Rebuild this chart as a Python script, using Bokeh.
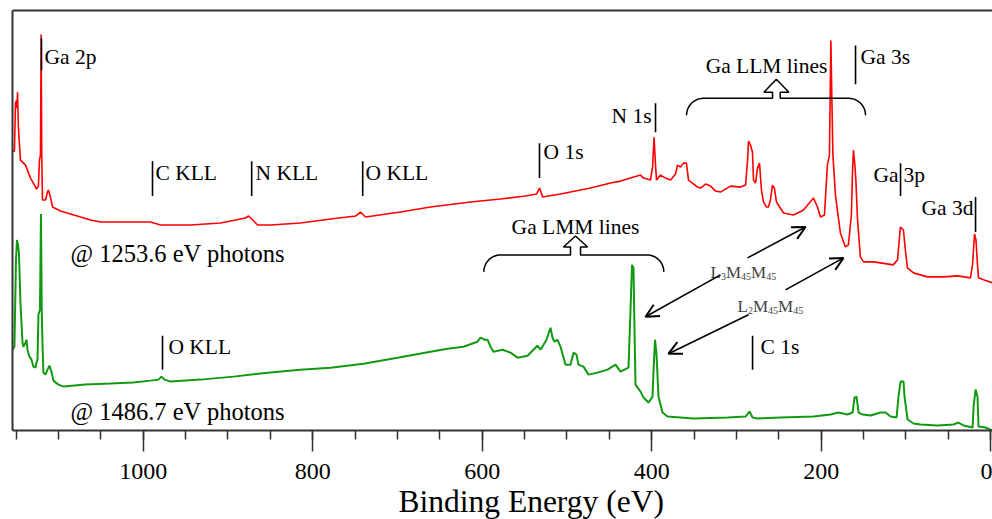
import math

from bokeh.plotting import figure
from bokeh.models import Range1d, FixedTicker, LinearAxis, Arrow, OpenHead, Title
from bokeh.core.properties import value
from bokeh.embed import file_html
from bokeh.resources import INLINE

# XPS survey of GaN, excited with 1253.6 eV photons (counts in arbitrary units)
red_energy = [1154.2, 1151.9, 1150.7, 1149.5, 1148.9, 1148.3, 1147.2, 1144.8, 1142.4, 1138.9,
              1136.5, 1133.0, 1129.5, 1125.9, 1123.6, 1122.4, 1121.2, 1120.4, 1119.7, 1118.8,
              1115.3, 1112.9, 1111.8, 1109.4, 1107.0, 1097.6, 1085.8, 1074.0, 1062.2, 1050.4,
              1015.0, 991.4, 979.6, 944.2, 908.8, 885.2, 879.3, 875.7, 870.9, 865.0,
              849.7, 814.4, 779.0, 749.4, 743.6, 737.7, 696.4, 661.0, 613.8, 578.4,
              548.9, 535.9, 532.3, 528.8, 507.6, 472.2, 448.6, 436.8, 425.0, 413.2,
              409.7, 401.4, 399.0, 397.2, 395.5, 394.3, 389.6, 383.7, 377.8, 371.9,
              369.6, 366.0, 362.5, 359.0, 356.6, 351.9, 346.0, 342.4, 336.5, 330.6,
              324.7, 318.8, 307.0, 295.2, 289.3, 286.9, 285.8, 283.4, 281.1, 279.9,
              277.5, 275.2, 272.8, 270.5, 268.1, 264.6, 262.2, 259.9, 257.5, 255.2,
              252.8, 244.5, 232.7, 220.9, 209.1, 204.4, 200.9, 196.2, 192.7, 190.3,
              188.6, 187.4, 186.2, 183.2, 180.9, 177.4, 171.5, 167.9, 164.4, 163.2,
              162.0, 160.3, 159.1, 157.3, 153.8, 150.1, 138.3, 130.1, 115.1, 110.0,
              108.9, 106.6, 103.0, 100.7, 98.3, 91.1, 74.6, 55.7, 39.2, 23.9,
              21.5, 19.1, 17.4, 15.6, 14.4, 8.5, -2.1]
red_counts = [280, 280, 328, 331, 323, 339, 303, 271, 269, 266,
              261, 253, 248, 242, 245, 271, 276, 397, 276, 231,
              231, 239, 241, 234, 224, 220, 217, 214, 211, 209,
              209, 209, 206, 206, 208, 212, 213, 215, 211, 206,
              206, 208, 212, 215, 219, 214, 219, 224, 229, 232,
              235, 237, 243, 234, 237, 243, 248, 250, 253, 256,
              253, 251, 264, 294, 266, 251, 256, 253, 251, 257,
              266, 264, 268, 268, 251, 248, 244, 243, 247, 245,
              240, 239, 245, 244, 246, 271, 290, 286, 279, 251,
              248, 263, 268, 241, 229, 224, 224, 231, 246, 243,
              229, 218, 216, 221, 233, 224, 214, 216, 266, 276,
              391, 331, 276, 236, 221, 198, 184, 186, 216, 256,
              281, 266, 251, 214, 174, 169, 169, 168, 166, 171,
              181, 204, 201, 181, 163, 158, 154, 154, 155, 153,
              166, 197, 191, 166, 153, 151, 148]

# Same sample, excited with 1486.7 eV photons
green_energy = [1154.2, 1151.9, 1150.1, 1148.9, 1147.7, 1146.6, 1144.8, 1142.4, 1141.3, 1138.9,
                1137.7, 1136.5, 1134.2, 1131.8, 1129.5, 1127.1, 1125.9, 1124.7, 1123.6, 1121.8,
                1120.6, 1119.7, 1118.8, 1117.7, 1115.3, 1112.9, 1110.6, 1108.2, 1105.9, 1100.0,
                1094.1, 1068.1, 1038.6, 1011.5, 991.4, 982.0, 978.4, 974.9, 967.8, 932.4,
                893.5, 853.3, 814.4, 779.0, 740.1, 699.9, 661.0, 640.9, 622.1, 605.6,
                602.0, 597.3, 593.7, 590.2, 586.7, 576.0, 566.6, 558.3, 546.5, 539.5,
                534.8, 531.2, 524.1, 521.8, 519.4, 517.0, 514.7, 511.3, 507.6, 501.7,
                495.8, 492.3, 488.7, 486.4, 480.5, 474.6, 464.0, 452.1, 442.7, 436.8,
                427.4, 425.0, 423.2, 421.5, 420.3, 419.1, 413.2, 409.7, 403.8, 399.0,
                397.9, 396.1, 394.3, 392.0, 387.3, 381.3, 366.0, 350.6, 310.5, 289.3,
                284.6, 281.0, 275.1, 248.0, 209.0, 189.0, 179.5, 169.0, 163.0, 160.7,
                158.3, 155.9, 151.2, 141.8, 130.0, 124.1, 118.2, 111.1, 108.8, 106.4,
                102.9, 101.7, 98.1, 91.1, 82.8, 62.7, 43.9, 38.0, 32.1, 21.4,
                20.2, 17.9, 15.6, 14.4, 6.2, -2.2]
green_counts = [81, 84, 171, 191, 186, 178, 128, 88, 84, 88,
                91, 81, 74, 71, 64, 63, 68, 71, 116, 121,
                217, 121, 86, 58, 56, 61, 65, 59, 50, 46,
                44, 46, 47, 48, 50, 51, 54, 51, 49, 51,
                54, 58, 61, 63, 67, 73, 79, 82, 84, 89,
                93, 91, 91, 84, 79, 81, 78, 73, 75, 81,
                85, 81, 91, 97, 103, 93, 89, 91, 84, 66,
                66, 78, 76, 66, 64, 56, 58, 61, 66, 59,
                63, 121, 166, 163, 101, 46, 39, 33, 28, 34,
                59, 91, 76, 34, 18, 14, 13, 12, 13, 14,
                19, 13, 12, 13, 14, 16, 18, 16, 18, 33,
                34, 18, 16, 15, 18, 18, 14, 13, 34, 49,
                49, 34, 11, 7, 6, 5, 6, 8, 5, 3,
                24, 41, 34, 4, 3, 0]

major_ticks = [0, 200, 400, 600, 800, 1000]
minor_ticks = [0, 50, 100, 150, 200, 250, 300, 350, 400, 450, 500, 550,
               600, 650, 700, 750, 800, 850, 900, 950, 1000, 1050, 1100, 1150]

# Peak markers: (label, energy of the marker bar, bar bottom, bar top)
marker_labels = ["Ga 2p", "C KLL", "N KLL", "O KLL", "O 1s", "N 1s", "Ga 3s", "Ga 3p", "Ga 3d", "O KLL", "C 1s"]
marker_energy = [1120.0, 989.0, 872.0, 741.0, 532.4, 395.5, 159.5, 106.4, 17.9, 977.2, 281.0]
marker_low = [361, 235, 235, 235, 253, 299, 347, 235, 199, 61, 61]
marker_high = [393, 270, 270, 270, 288, 328, 386, 268, 234, 95, 95]

SERIF = "Liberation Serif"

p = figure(width=992, height=519,
           x_range=Range1d(1154.2, -2.1), y_range=Range1d(0, 421),
           output_backend="svg", toolbar_location=None,
           min_border_left=12, min_border_right=0, min_border_top=10, min_border_bottom=88)
p.xgrid.visible = False
p.ygrid.visible = False
p.outline_line_color = None
p.background_fill_color = "white"
p.border_fill_color = "white"

xa = p.xaxis[0]
xa.ticker = FixedTicker(ticks=major_ticks, minor_ticks=minor_ticks)
xa.axis_line_width = 2
xa.axis_line_color = "#333333"
xa.major_tick_in = 0
xa.major_tick_out = 21
xa.minor_tick_in = 0
xa.minor_tick_out = 9
xa.major_tick_line_width = 1.5
xa.minor_tick_line_width = 1.5
xa.major_tick_line_color = "#333333"
xa.minor_tick_line_color = "#333333"
xa.major_label_text_font = SERIF
xa.major_label_text_font_size = "24px"
xa.major_label_text_color = "black"
xa.major_label_standoff = 12

ya = p.yaxis[0]
ya.ticker = FixedTicker(ticks=[])
ya.axis_line_width = 2
ya.axis_line_color = "#333333"
ya.major_tick_line_color = None
ya.minor_tick_line_color = None

top = LinearAxis(ticker=FixedTicker(ticks=[]), axis_line_width=2, axis_line_color="#333333",
                 major_tick_line_color=None, minor_tick_line_color=None)
p.add_layout(top, "above")

# axis title below the tick labels, a little right of the frame centre
p.add_layout(Title(text="Binding Energy (eV)", text_font=SERIF, text_font_size="31.5px",
                   text_font_style="normal", text_color="black",
                   align="left", offset=386, standoff=1), "below")

# spectra
p.line(red_energy, red_counts, line_color="#ff0000", line_width=1.6)
p.line(green_energy, green_counts, line_color="#119a11", line_width=2)

# marker bars
p.segment(x0=marker_energy, y0=marker_low, x1=marker_energy, y1=marker_high,
          line_color="black", line_width=1.6)

label_kw = dict(text_font=value(SERIF), text_font_size="21.5px", text_color="black",
                text_baseline="middle")
p.text(x=[1116.5, 985.5, 867.5, 737.7, 527.7, 153.6, 102.9, 970.2, 271.6],
       y=[374, 258, 258, 258, 279, 374, 256, 84, 84],
       text=["Ga 2p", "C KLL", "N KLL", "O KLL", "O 1s", "Ga 3s", "3p", "O KLL", "C 1s"],
       text_align="left", **label_kw)
p.text(x=[400.2, 108.8, 20.3], y=[315, 256, 223], text=["N 1s", "Ga", "Ga 3d"],
       text_align="right", **label_kw)
p.text(x=[264.5, 489.9], y=[365, 204], text=["Ga LLM lines", "Ga LMM lines"],
       text_align="center", **label_kw)

photon_kw = dict(text_font=value(SERIF), text_font_size="24.5px", text_color="black",
                 text_baseline="middle", text_align="left")
p.text(x=[1085.8, 1085.8], y=[177, 19],
       text=["@ 1253.6 eV photons", "@ 1486.7 eV photons"], **photon_kw)


def brace(e_left, e_right, i_top, e_mid, r_e=20.0, r_i=17.0,
          stem_half=5.0, stem_h=7.0, head_half=14.5, head_h=12.0):
    """Curly bracket opening downwards with a hollow arrow pointing up from its middle."""
    xs, ys = [], []
    c_e, c_i = e_left - r_e, i_top - r_i
    for k in range(13):
        t = math.radians(180 - 90 * k / 12)
        xs.append(c_e - r_e * math.cos(t))
        ys.append(c_i + r_i * math.sin(t))
    xs += [e_mid + stem_half, e_mid + stem_half, e_mid + head_half, e_mid,
           e_mid - head_half, e_mid - stem_half, e_mid - stem_half]
    ys += [i_top, i_top + stem_h, i_top + stem_h, i_top + stem_h + head_h,
           i_top + stem_h, i_top + stem_h, i_top]
    c_e = e_right + r_e
    for k in range(13):
        t = math.radians(90 - 90 * k / 12)
        xs.append(c_e - r_e * math.cos(t))
        ys.append(c_i + r_i * math.sin(t))
    p.line(xs, ys, line_color="black", line_width=1.5)


brace(358.9, 147.7, 333, 252.9, stem_half=4.5, stem_h=6, head_half=14.75, head_h=13)
brace(598.1, 385.7, 176, 489.9, stem_half=5.9, stem_h=8, head_half=14.2, head_h=11)

# double arrows linking the Auger lines of the two spectra (split around their labels)
for (e0, i0, e1, i1) in [(318.8, 156, 407.3, 114), (286.9, 173, 218.5, 204),
                         (285.8, 116, 380.2, 77), (242.1, 141, 173.7, 173)]:
    p.add_layout(Arrow(x_start=e0, y_start=i0, x_end=e1, y_end=i1,
                       line_color="black", line_width=1.6,
                       end=OpenHead(size=13, line_width=2, line_color="black")))


def auger_label(e, i_base, sub_a, sub_b, sub_c):
    """L<sub>M<sub>M<sub> written piece by piece."""
    big = dict(text_font=value(SERIF), text_font_size="17px", text_color="#444444",
               text_baseline="alphabetic", text_align="left")
    small = dict(text_font=value(SERIF), text_font_size="10px", text_color="#444444",
                 text_baseline="alphabetic", text_align="left")
    p.text(x=[e, e, e], y=[i_base] * 3, text=["L", "M", "M"], x_offset=[0, 15.4, 40.5], **big)
    p.text(x=[e, e, e], y=[i_base - 3.5] * 3, text=[sub_a, sub_b, sub_c],
           x_offset=[10.4, 30.5, 55.6], **small)


auger_label(330.6, 158, "3", "45", "45")
auger_label(298.7, 124, "2", "45", "45")

open("out.html", "w").write(file_html(p, INLINE))
